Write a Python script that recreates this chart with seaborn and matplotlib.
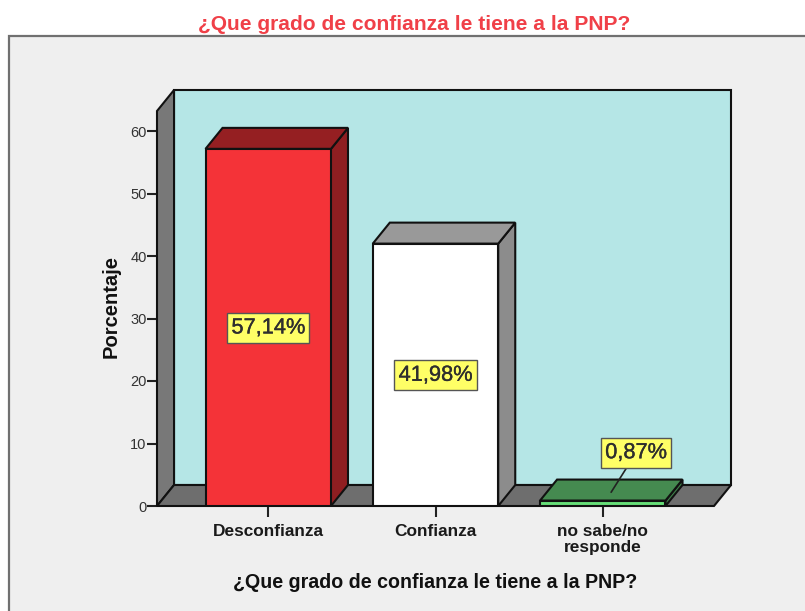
import pandas as pd
import matplotlib.pyplot as plt
import matplotlib.patheffects as pe
from matplotlib.patches import Polygon, Rectangle
import seaborn as sns

# Values
categories = ["Desconfianza", "Confianza", "no sabe/no\nresponde"]
percent = [57.14, 41.98, 0.87]
labels = ["57,14%", "41,98%", "0,87%"]
y_ticks = [0, 10, 20, 30, 40, 50, 60]
title = "¿Que grado de confianza le tiene a la PNP?"

front = ["#F43338", "#FFFFFF", "#66DE78"]
top = ["#951F22", "#999999", "#458A50"]
side = ["#8F1E21", "#8C8C8C", "#3E7C48"]

W, H = 805, 611
df = pd.DataFrame({"grado": categories, "pct": percent})

sns.set_theme(style="white")
plt.rcParams["font.family"] = ["Liberation Sans", "DejaVu Sans"]

fig = plt.figure(figsize=(W / 100, H / 100), dpi=100, facecolor="white")
# grey chart area, runs off the right and bottom edges
fig.patches.append(Rectangle((9 / W, -0.01), 1, 1.01 - 36 / H, transform=fig.transFigure,
                             facecolor="#EFEFEF", edgecolor="#707070", linewidth=1.6, zorder=-1))
ax = fig.add_axes([157 / W, 1 - 506 / H, (714 - 157) / W, (506 - 111) / H])
ax.patch.set_alpha(0)

sns.barplot(data=df, x="grado", y="pct", hue="grado", palette=front, legend=False,
            width=0.75, edgecolor="#111111", linewidth=1.5, saturation=1, zorder=5, ax=ax)
ax.set_xlim(-0.665, 2.665)
ax.set_ylim(0, 63.2)

# depth of the 3d box, in data units
dx = 17 / 167
dy = 21 / 6.25
x0, x1 = ax.get_xlim()
y1 = ax.get_ylim()[1]
edge = dict(edgecolor="#111111", linewidth=1.5, clip_on=False)


def add_poly(points, color, z):
    ax.add_patch(Polygon(points, closed=True, facecolor=color, zorder=z, **edge))


# back wall, side wall and floor
add_poly([(x0 + dx, dy), (x1 + dx, dy), (x1 + dx, y1 + dy), (x0 + dx, y1 + dy)], "#B5E6E6", 1)
add_poly([(x0, 0), (x0 + dx, dy), (x0 + dx, y1 + dy), (x0, y1)], "#787878", 2)
add_poly([(x0, 0), (x1, 0), (x1 + dx, dy), (x0 + dx, dy)], "#6E6E6E", 2)

# bar tops and sides
for i, bar in enumerate(ax.patches[:3]):
    a = bar.get_x()
    b = a + bar.get_width()
    h = bar.get_height()
    add_poly([(b, 0), (b + dx, dy), (b + dx, h + dy), (b, h)], side[i], 4)
    add_poly([(a, h), (b, h), (b + dx, h + dy), (a + dx, h + dy)], top[i], 4)

box = dict(boxstyle="square,pad=0.2", facecolor="#FFFF66", edgecolor="#555555", linewidth=1)
heavy = [pe.withStroke(linewidth=0.25, foreground="#2E2E2E")]
for i in range(2):
    ax.annotate(labels[i], xy=(i, percent[i] / 2), xytext=(0, 2), textcoords="offset pixels",
                ha="center", va="center_baseline", fontsize=15.7, color="#2E2E2E",
                bbox=box, zorder=8, path_effects=heavy)
ax.annotate(labels[2], xy=(2.05, 2.2), xytext=(25, 42), textcoords="offset pixels",
            ha="center", va="center_baseline", fontsize=15.7, color="#2E2E2E", bbox=box, zorder=8,
            path_effects=heavy,
            arrowprops=dict(arrowstyle="-", color="#222222", linewidth=1.2, shrinkA=0, shrinkB=0))

sns.despine(ax=ax, top=True, right=True, left=True, bottom=True)
ax.set_yticks(y_ticks)
ax.tick_params(axis="y", left=True, length=7, width=1.5, color="#222222", pad=0.5,
               labelsize=10.5, labelcolor="#333333")
ax.tick_params(axis="x", bottom=True, length=8, width=1.5, color="#222222", pad=5)
for t in ax.get_xticklabels():
    t.set_fontsize(12.4)
    t.set_fontweight("bold")
    t.set_color("#1A1A1A")
    t.set_linespacing(1.1)

ax.set_xlabel(title, fontsize=14.1, fontweight="bold", color="#111111", labelpad=13)
ax.set_ylabel("Porcentaje", fontsize=14.5, fontweight="bold", color="#111111", labelpad=7, y=0.505)
fig.text(414 / W, 1 - 24 / H, title, ha="center", va="center", fontsize=15.1,
         fontweight="bold", color="#F04048")

fig.savefig("out.png", dpi=100)
